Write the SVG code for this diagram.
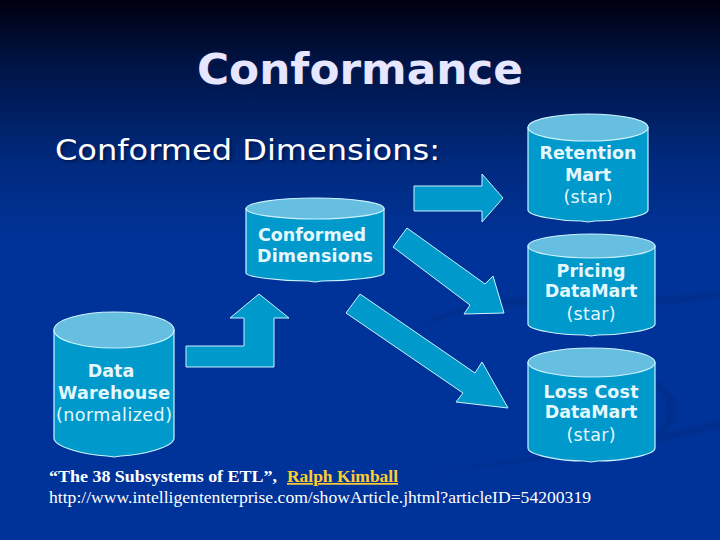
<svg xmlns="http://www.w3.org/2000/svg" width="720" height="540" viewBox="0 0 720 540">
<defs>
<linearGradient id="bg" x1="0" y1="0" x2="0" y2="1"><stop offset="0" stop-color="#00000f"/><stop offset="0.12" stop-color="#001445"/><stop offset="0.3" stop-color="#002a7e"/><stop offset="0.45" stop-color="#003399"/><stop offset="1" stop-color="#003399"/></linearGradient>
<filter id="soft" x="-10%" y="-30%" width="120%" height="160%"><feGaussianBlur stdDeviation="1.500"/></filter>
</defs>
<style>
text{font-family:"DejaVu Sans","Liberation Sans",sans-serif}
.t{fill:#e6e6ff;font-weight:700;font-size:43px;text-shadow:2px 2px 2px #001a55}
.h{fill:#fff;font-size:29px;text-shadow:2px 2px 2px #001a55}
.b{fill:#e6f8ff;font-weight:700;font-size:17.5px;text-anchor:middle}
.n{fill:#e6f8ff;font-size:17.5px;text-anchor:middle}
.s{font-family:"Liberation Serif",serif;fill:#fff;font-size:17px}
.side{fill:#0099cc;stroke:#ccf2ff;stroke-width:1.2}
.top{fill:#66bfe0;stroke:#ccf2ff;stroke-width:1.2}
.a{fill:#0099cc;stroke:#ccf2ff;stroke-width:1}
.sw{fill:#002d8c;filter:url(#soft)}
</style>
<rect width="720" height="540" fill="url(#bg)"/>
<path class="sw" d="M418 330C440 308 490 298 540 296C600 296 660 300 720 291L720 296C660 310 610 304 550 304C500 304 450 312 418 330Z"/>
<path class="sw" d="M540 338C600 345 650 370 672 395C682 410 676 425 655 440C668 420 672 405 655 385C625 358 590 345 540 338Z"/>
<path class="sw" d="M720 420L720 428C640 448 540 462 430 472C530 458 640 442 720 420Z"/>
<g id="connectors">
<path class="a" d="M414 186H482V174L503 198L482 222V211H414Z"/>
<path class="a" d="M186 346H244V318H230L259 294L289 318H274V367H186Z"/>
<path class="a" d="M407 228L393 247L470 305L464 314L504 313L493 276L485 284Z"/>
<path class="a" d="M360 294L346 313L463 393L456 402L508 408L482 362L475 373Z"/>
</g>
<g id="conformed-dimensions">
<path class="side" d="M246 208.500V273C246 277 280 281 308 281L315 282L322 281C350 281 384 277 384 273V208.500Z"/>
<ellipse class="top" cx="315" cy="208.500" rx="69" ry="10.500"/>
<text class="b" x="312" y="241">Conformed</text><text class="b" x="315" y="262" textLength="116">Dimensions</text>
</g>
<g id="retention-mart">
<path class="side" d="M528 127.500V210C528 216 560 221 581 221L588 222L595 221C616 221 648 216 648 210V127.500Z"/>
<ellipse class="top" cx="588" cy="127.500" rx="60" ry="13.500"/>
<text class="b" x="588" y="159" textLength="97">Retention</text><text class="b" x="588" y="181">Mart</text><text class="n" x="588" y="203" textLength="49">(star)</text>
</g>
<g id="pricing-datamart">
<path class="side" d="M528 246V324C528 330 560 335 584 335L591 336L598 335C622 335 655 330 655 324V246Z"/>
<ellipse class="top" cx="591.500" cy="246" rx="63.500" ry="12"/>
<text class="b" x="591" y="277">Pricing</text><text class="b" x="591" y="297">DataMart</text><text class="n" x="591" y="320" textLength="49">(star)</text>
</g>
<g id="loss-cost-datamart">
<path class="side" d="M528 362.500V448C528 455 560 461 584 461L591 462L598 461C622 461 655 455 655 448V362.500Z"/>
<ellipse class="top" cx="591.500" cy="362.500" rx="63.500" ry="14.500"/>
<text class="b" x="591" y="398" textLength="95">Loss Cost</text><text class="b" x="591" y="418">DataMart</text><text class="n" x="591" y="441" textLength="49">(star)</text>
</g>
<g id="data-warehouse">
<path class="side" d="M54 330V438C54 447 85 455 107 456L114 457L121 456C143 455 174 447 174 438V330Z"/>
<ellipse class="top" cx="114" cy="330" rx="60" ry="18"/>
<text class="b" x="111" y="377">Data</text><text class="b" x="114" y="399" textLength="112">Warehouse</text><text class="n" x="114" y="421" textLength="116">(normalized)</text>
</g>
<text class="t" x="197" y="84" textLength="326" lengthAdjust="spacingAndGlyphs">Conformance</text>
<text class="h" x="55" y="160" textLength="385" lengthAdjust="spacingAndGlyphs">Conformed Dimensions:</text>
<text class="s" x="49" y="482" font-weight="700" textLength="228" lengthAdjust="spacingAndGlyphs">“The 38 Subsystems of ETL”,</text>
<text class="s" x="287" y="482" font-weight="700" style="fill:#ffcc33" text-decoration="underline" textLength="111" lengthAdjust="spacingAndGlyphs">Ralph Kimball</text>
<text class="s" x="49" y="503" textLength="542" lengthAdjust="spacingAndGlyphs">http://www.intelligententerprise.com/showArticle.jhtml?articleID=54200319</text>
</svg>
